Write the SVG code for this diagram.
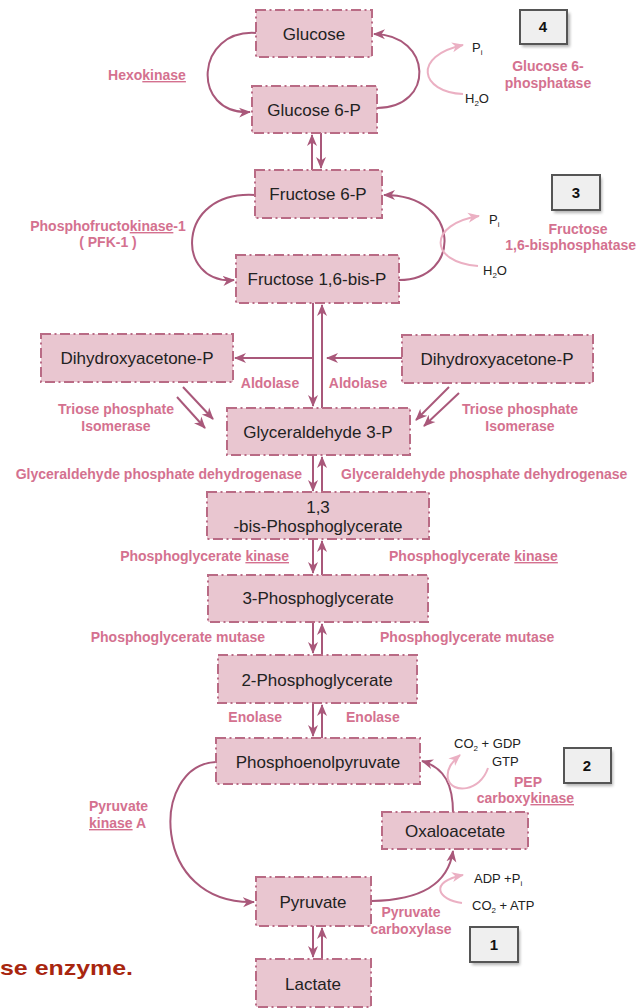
<svg xmlns="http://www.w3.org/2000/svg" width="637" height="1008" viewBox="0 0 637 1008">
<style>
.node rect{fill:#e9c6d0;stroke:#b96b85;stroke-width:2;stroke-dasharray:10 3.5 2 3.5}
.node text{font-family:"Liberation Sans",Arial,sans-serif;font-size:17px;fill:#222;text-anchor:middle}
.lbl{font-family:"Liberation Sans",Arial,sans-serif;font-size:14px;font-weight:bold;fill:#d4718f}
.sm{font-family:"Liberation Sans",Arial,sans-serif;font-size:13px;fill:#222}
.sub{font-size:8px}
.num rect.b{fill:#efefef;stroke:#555;stroke-width:2}
.num rect.s{fill:#777;opacity:.55;filter:url(#blur)}
.num text{font-family:"Liberation Sans",Arial,sans-serif;font-size:15px;font-weight:bold;fill:#111;text-anchor:middle}
.c{fill:none;stroke:#a9587a;stroke-width:2;marker-end:url(#ah)}
.p{fill:none;stroke:#ebb0c3;stroke-width:2;marker-end:url(#ahp)}
.u{text-decoration:underline}
</style>
<defs>
<marker id="ah" markerUnits="userSpaceOnUse" markerWidth="12" markerHeight="12" refX="11" refY="6" orient="auto">
<path d="M0,1 L12,6 L0,11 L3.5,6 z" fill="#a9587a"/>
</marker>
<marker id="ahp" markerUnits="userSpaceOnUse" markerWidth="12" markerHeight="12" refX="11" refY="6" orient="auto">
<path d="M0,1 L12,6 L0,11 L3.5,6 z" fill="#ebb0c3"/>
</marker>
<filter id="blur" x="-20%" y="-20%" width="140%" height="140%"><feGaussianBlur stdDeviation="1.5"/></filter>
</defs>
<rect width="637" height="1008" fill="#fff"/>

<g id="connectors">
<path class="c" d="M257,33 C195,28 190,115 250,112"/>
<path class="c" d="M377,108 C435,108 433,35 374,34"/>
<path class="p" d="M463,94 C420,92 412,56 463,45"/>
<path class="c" d="M312,170 L312,135"/>
<path class="c" d="M321,133 L321,168"/>
<path class="c" d="M255,195 C175,190 175,285 234,280"/>
<path class="c" d="M399,280 C462,280 462,195 384,195"/>
<path class="p" d="M478,266 C428,262 428,224 479,216"/>
<path class="c" d="M313,303 L313,406"/>
<path class="c" d="M322,408 L322,305"/>
<path class="c" d="M313,358 L235,358"/>
<path class="c" d="M402,358 L327,358"/>
<path class="c" d="M183,387 L213,419"/>
<path class="c" d="M177,397 L205,428"/>
<path class="c" d="M449,387 L416,420"/>
<path class="c" d="M459,393 L424,426"/>
<path class="c" d="M313,455 L313,491"/>
<path class="c" d="M322,492 L322,457"/>
<path class="c" d="M313,539 L313,573"/>
<path class="c" d="M322,575 L322,541"/>
<path class="c" d="M313,622 L313,653"/>
<path class="c" d="M322,655 L322,624"/>
<path class="c" d="M313,703 L313,736"/>
<path class="c" d="M322,738 L322,705"/>
<path class="c" d="M216,762 C150,765 150,905 254,902"/>
<path class="c" d="M372,901 C420,900 448,885 453,851"/>
<path class="c" d="M453,813 C453,785 445,768 422,761"/>
<path class="p" d="M488,768 C480,792 452,794 448,779 C446,769 452,762 460,755"/>
<path class="p" d="M462,903 C438,900 428,882 463,875"/>
<path class="c" d="M313,926 L313,957"/>
<path class="c" d="M322,959 L322,928"/>
</g>

<g id="glucose" class="node"><rect x="256" y="10" width="116" height="47"/><text x="314" y="40">Glucose</text></g>
<g id="glucose6p" class="node"><rect x="252" y="86" width="125" height="47"/><text x="314" y="116">Glucose 6-P</text></g>
<g id="fructose6p" class="node"><rect x="255" y="170" width="127" height="48"/><text x="318" y="200">Fructose 6-P</text></g>
<g id="fructose16bp" class="node"><rect x="236" y="255" width="163" height="48"/><text x="317" y="285">Fructose 1,6-bis-P</text></g>
<g id="dhap-left" class="node"><rect x="41" y="334" width="192" height="48"/><text x="137" y="364">Dihydroxyacetone-P</text></g>
<g id="dhap-right" class="node"><rect x="402" y="335" width="191" height="48"/><text x="497" y="365">Dihydroxyacetone-P</text></g>
<g id="g3p" class="node"><rect x="227" y="408" width="183" height="47"/><text x="318" y="438">Glyceraldehyde 3-P</text></g>
<g id="bpg13" class="node"><rect x="207" y="492" width="222" height="47"/><text x="318" y="513">1,3</text><text x="318" y="532">-bis-Phosphoglycerate</text></g>
<g id="pg3" class="node"><rect x="208" y="575" width="220" height="47"/><text x="318" y="604">3-Phosphoglycerate</text></g>
<g id="pg2" class="node"><rect x="218" y="655" width="199" height="48"/><text x="317" y="686">2-Phosphoglycerate</text></g>
<g id="pep" class="node"><rect x="216" y="738" width="204" height="46"/><text x="318" y="768">Phosphoenolpyruvate</text></g>
<g id="oxaloacetate" class="node"><rect x="382" y="812" width="146" height="37"/><text x="455" y="837">Oxaloacetate</text></g>
<g id="pyruvate" class="node"><rect x="256" y="877" width="115" height="49"/><text x="313" y="908">Pyruvate</text></g>
<g id="lactate" class="node"><rect x="256" y="959" width="115" height="48"/><text x="313" y="990">Lactate</text></g>

<g id="box4" class="num"><rect class="s" x="522" y="13" width="48" height="34"/><rect class="b" x="520" y="10" width="47" height="34"/><text x="543" y="32">4</text></g>
<g id="box3" class="num"><rect class="s" x="554" y="178" width="48" height="35"/><rect class="b" x="552" y="175" width="48" height="35"/><text x="576" y="198">3</text></g>
<g id="box2" class="num"><rect class="s" x="566" y="751" width="47" height="35"/><rect class="b" x="564" y="748" width="47" height="35"/><text x="587" y="771">2</text></g>
<g id="box1" class="num"><rect class="s" x="472" y="930" width="48" height="35"/><rect class="b" x="470" y="927" width="48" height="35"/><text x="494" y="950">1</text></g>

<g id="labels">
<text class="lbl" x="147" y="80" text-anchor="middle">Hexo<tspan class="u">kinase</tspan></text>
<text class="lbl" x="548" y="71" text-anchor="middle">Glucose  6-</text>
<text class="lbl" x="548" y="88" text-anchor="middle">phosphatase</text>
<text class="sm" x="472" y="52">P<tspan class="sub" dy="3">i</tspan></text>
<text class="sm" x="465" y="103">H<tspan class="sub" dy="3">2</tspan><tspan dy="-3">O</tspan></text>

<text class="lbl" x="108" y="231" text-anchor="middle">Phosphofructo<tspan class="u">kinase</tspan>-1</text>
<text class="lbl" x="108" y="247" text-anchor="middle">( PFK-1 )</text>
<text class="lbl" x="578" y="234" text-anchor="middle">Fructose</text>
<text class="lbl" x="636" y="250" text-anchor="end">1,6-bisphosphatase</text>
<text class="sm" x="489" y="224">P<tspan class="sub" dy="3">i</tspan></text>
<text class="sm" x="483" y="275">H<tspan class="sub" dy="3">2</tspan><tspan dy="-3">O</tspan></text>

<text class="lbl" x="270" y="388" text-anchor="middle">Aldolase</text>
<text class="lbl" x="358" y="388" text-anchor="middle">Aldolase</text>
<text class="lbl" x="116" y="414" text-anchor="middle">Triose phosphate</text>
<text class="lbl" x="116" y="431" text-anchor="middle">Isomerase</text>
<text class="lbl" x="520" y="414" text-anchor="middle">Triose phosphate</text>
<text class="lbl" x="520" y="431" text-anchor="middle">Isomerase</text>

<text class="lbl" x="302" y="479" text-anchor="end">Glyceraldehyde phosphate dehydrogenase</text>
<text class="lbl" x="341" y="479">Glyceraldehyde phosphate dehydrogenase</text>
<text class="lbl" x="289" y="561" text-anchor="end">Phosphoglycerate <tspan class="u">kinase</tspan></text>
<text class="lbl" x="389" y="561">Phosphoglycerate <tspan class="u">kinase</tspan></text>
<text class="lbl" x="265" y="642" text-anchor="end">Phosphoglycerate mutase</text>
<text class="lbl" x="380" y="642">Phosphoglycerate mutase</text>
<text class="lbl" x="282" y="722" text-anchor="end">Enolase</text>
<text class="lbl" x="346" y="722">Enolase</text>

<text class="sm" x="454" y="748">CO<tspan class="sub" dy="3">2</tspan><tspan dy="-3"> + GDP</tspan></text>
<text class="sm" x="492" y="766">GTP</text>
<text class="lbl" x="528" y="787" text-anchor="middle">PEP</text>
<text class="lbl" x="574" y="803" text-anchor="end">carboxy<tspan class="u">kinase</tspan></text>
<text class="lbl" x="89" y="811">Pyruvate</text>
<text class="lbl" x="89" y="828"><tspan class="u">kinase</tspan> A</text>

<text class="sm" x="474" y="883">ADP +P<tspan class="sub" dy="3">i</tspan></text>
<text class="sm" x="472" y="910">CO<tspan class="sub" dy="3">2</tspan><tspan dy="-3"> + ATP</tspan></text>
<text class="lbl" x="411" y="917" text-anchor="middle">Pyruvate</text>
<text class="lbl" x="411" y="934" text-anchor="middle">carboxylase</text>

<text x="0" y="975" font-family="'Liberation Sans',Arial,sans-serif" font-size="21" font-weight="bold" fill="#a8260f" textLength="133" lengthAdjust="spacingAndGlyphs">se enzyme.</text>
</g>
</svg>
